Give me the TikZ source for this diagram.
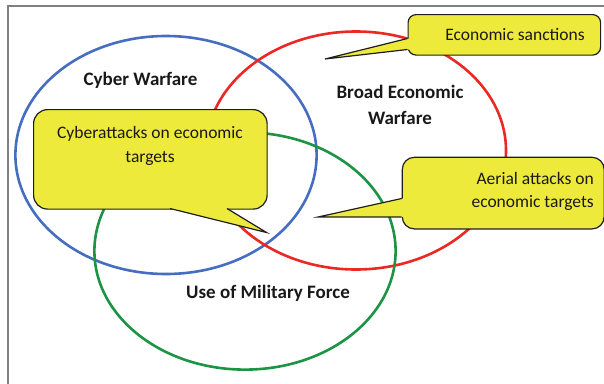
\documentclass[tikz,border=0pt]{standalone}
\usepackage{fontspec}
\setmainfont{Carlito}
\definecolor{vblue}{RGB}{70,110,192}
\definecolor{vred}{RGB}{236,40,36}
\definecolor{vgreen}{RGB}{28,148,68}
\definecolor{cyellow}{RGB}{238,234,60}
\definecolor{frameg}{RGB}{128,128,128}
\definecolor{cborder}{RGB}{30,30,30}
\begin{document}
\begin{tikzpicture}[x=1pt,y=-1pt,
  venn/.style={line width=2.6pt},
  callbox/.style={draw=cborder, fill=cyellow, line width=1.2pt, inner sep=0pt, anchor=north west},
  pointerfill/.style={fill=cyellow},
  pointeredge/.style={draw=cborder, line width=1.2pt, line join=miter},
  calltext/.style={font=\fontsize{17.5}{23.6}\selectfont, inner sep=0pt, text=black!90},
  venntext/.style={font=\fontsize{19}{26.6}\selectfont\bfseries, inner sep=0pt, align=center, text=black!90}]
\useasboundingbox (0,0) rectangle (604,383);
% frame
\draw[frameg, line width=2pt] (7.7,384) -- (7.7,5.7) -- (605,5.7);
% ellipses
\draw[venn, vblue] (166,155) ellipse [x radius=150.6, y radius=119];
\draw[venn, vred] (356,150.5) ellipse [x radius=150, y radius=119];
\draw[venn, vgreen] (245,251) ellipse [x radius=150.6, y radius=118.6];
% labels
\node[venntext] (cw) at (140.5,80) {Cyber Warfare};
\node[venntext] (bew) at (400,105) {Broad Economic\\Warfare};
\node[venntext] (umf) at (268,293) {Use of Military Force};
% callout: cyberattacks
\node[callbox, rounded corners=14pt, minimum width=233.5pt, minimum height=99.5pt] (cyb) at (33,109) {};
\coordinate (cyb1) at (170,208.5);
\coordinate (cyb2) at (227,208.5);
\coordinate (cybt) at (266.5,232.5);
\fill[pointerfill] (170,205.5) -- (cyb1) -- (cybt) -- (cyb2) -- (227,205.5) -- cycle;
\draw[pointeredge] (cyb1) -- (cybt) -- (cyb2);
\node[calltext, align=center] (cybtx) at (150,146) {Cyberattacks on economic\\targets};
% callout: economic sanctions
\node[callbox, rounded corners=8pt, minimum width=192.5pt, minimum height=40.5pt] (eco) at (407.5,14) {};
\coordinate (eco1) at (407.5,38.5);
\coordinate (eco2) at (407.5,49.5);
\coordinate (ecot) at (325,59);
\fill[pointerfill] (410.5,38.5) -- (eco1) -- (ecot) -- (eco2) -- (410.5,49.5) -- cycle;
\draw[pointeredge] (eco1) -- (ecot) -- (eco2);
\node[calltext] (ecotx) at (515,34.5) {Economic sanctions};
% callout: aerial attacks
\node[callbox, rounded corners=12pt, minimum width=201.8pt, minimum height=71.6pt] (aer) at (401.7,156.7) {};
\coordinate (aer1) at (401.7,198.5);
\coordinate (aer2) at (401.7,216.9);
\coordinate (aert) at (318.5,216.9);
\fill[pointerfill] (404.7,198.5) -- (aer1) -- (aert) -- (aer2) -- (404.7,216.9) -- cycle;
\draw[pointeredge] (aer1) -- (aert) -- (aer2);
\node[calltext, align=right, anchor=east] (aertx) at (594,191.5) {Aerial attacks on\\economic targets};
\end{tikzpicture}
\end{document}
